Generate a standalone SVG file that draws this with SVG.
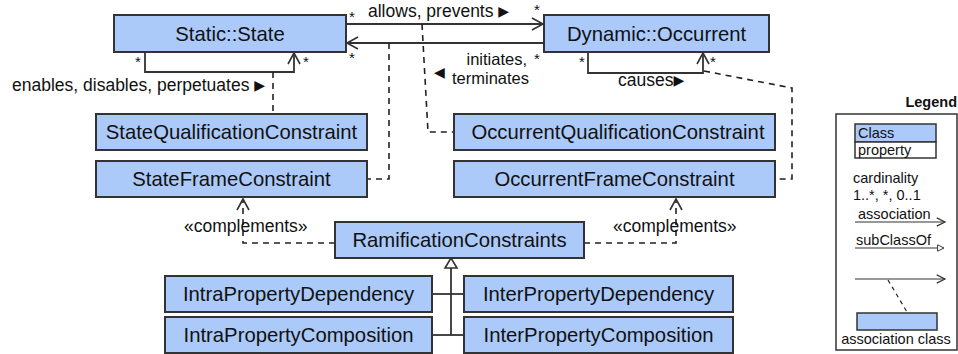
<svg xmlns="http://www.w3.org/2000/svg" width="958" height="354" viewBox="0 0 958 354">
<defs>
<style>
.box{fill:#abcaf9;stroke:#333;stroke-width:2}
.wbox{fill:#fff;stroke:#333;stroke-width:1.5}
.node{font-family:"Liberation Sans",Arial,sans-serif;font-size:20.3px;fill:#111;text-anchor:middle}
.lbl{font-family:"Liberation Sans",Arial,sans-serif;font-size:17.5px;fill:#111}
.star{font-family:"Liberation Sans",Arial,sans-serif;font-size:15px;fill:#111;text-anchor:middle}
.tri{font-family:"DejaVu Sans",sans-serif;font-size:14px;fill:#111}
.leg{font-family:"Liberation Sans",Arial,sans-serif;font-size:14.5px;fill:#111}
.line{fill:none;stroke:#333;stroke-width:1.8}
.dash{fill:none;stroke:#222;stroke-width:1.6;stroke-dasharray:6 5}
</style>
<marker id="open" viewBox="0 0 14 14" refX="12" refY="7" markerWidth="14" markerHeight="14" markerUnits="userSpaceOnUse" orient="auto">
<path d="M1,1 L12,7 L1,13" fill="none" stroke="#333" stroke-width="1.6"/>
</marker>
<marker id="openS" viewBox="0 0 12 12" refX="10" refY="6" markerWidth="11" markerHeight="11" markerUnits="userSpaceOnUse" orient="auto">
<path d="M1,1.5 L10,6 L1,10.5" fill="none" stroke="#333" stroke-width="1.3"/>
</marker>
<marker id="hollow" viewBox="0 0 10 10" refX="9" refY="5" markerWidth="8" markerHeight="8" markerUnits="userSpaceOnUse" orient="auto">
<path d="M1,1 L9,5 L1,9 Z" fill="#fff" stroke="#333" stroke-width="1.2"/>
</marker>
</defs>
<rect width="958" height="354" fill="#fff"/>

<g id="connectors">
<polyline class="line" points="145,52 145,72 294,72 294,53" marker-end="url(#open)"/>
<line class="dash" x1="273" y1="72" x2="273" y2="114"/>
<polyline class="line" points="588,52 588,73 703,73 703,53" marker-end="url(#open)"/>
<polyline class="dash" points="704,71 792,88 792,179 776,179"/>
<line class="line" x1="347" y1="24" x2="543" y2="24" marker-end="url(#open)"/>
<line class="line" x1="543" y1="43" x2="347" y2="43" marker-end="url(#open)"/>
<polyline class="dash" points="422,24 428,132 454,132"/>
<polyline class="dash" points="389,43 389,179 367,179"/>
<polyline class="dash" points="335,243 243,243 243,199" marker-end="url(#open)"/>
<polyline class="dash" points="584,243 676,243 676,199" marker-end="url(#open)"/>
<polygon points="451,258 445,268 457,268" fill="#fff" stroke="#333" stroke-width="1.6"/>
<line class="line" x1="451" y1="268" x2="451" y2="335"/>
<line class="line" x1="432" y1="294" x2="464" y2="294"/>
<line class="line" x1="432" y1="335" x2="464" y2="335"/>
</g>

<g id="labels">
<text class="star" x="138" y="67">*</text>
<text class="star" x="306" y="67">*</text>
<text class="star" x="582" y="67">*</text>
<text class="star" x="713" y="67">*</text>
<text class="star" x="352" y="22">*</text>
<text class="star" x="537" y="15">*</text>
<text class="star" x="352" y="63">*</text>
<text class="star" x="537" y="64">*</text>
<text class="lbl" x="12" y="91">enables, disables, perpetuates <tspan class="tri" dy="-1">▶</tspan></text>
<text class="lbl" x="368" y="17">allows, prevents <tspan class="tri" dy="-1">▶</tspan></text>
<text class="tri" x="434" y="77">◀</text>
<text class="lbl" x="527" y="65" text-anchor="end" style="font-size:16.5px">initiates,</text>
<text class="lbl" x="529" y="84" text-anchor="end" style="font-size:16.5px">terminates</text>
<text class="lbl" x="618" y="86">causes<tspan class="tri" dy="-1">▶</tspan></text>
<text class="lbl" x="184" y="232">«complements»</text>
<text class="lbl" x="613" y="232">«complements»</text>
</g>

<g id="static-state">
<rect class="box" x="114" y="15" width="232" height="37"/>
<text class="node" x="230" y="41">Static::State</text>
</g>
<g id="dynamic-occurrent">
<rect class="box" x="544" y="15" width="225" height="37"/>
<text class="node" x="656.5" y="41">Dynamic::Occurrent</text>
</g>
<g id="state-qualification-constraint">
<rect class="box" x="96" y="114" width="271" height="36"/>
<text class="node" x="231.5" y="139">StateQualificationConstraint</text>
</g>
<g id="state-frame-constraint">
<rect class="box" x="96" y="161" width="271" height="36"/>
<text class="node" x="231.5" y="186">StateFrameConstraint</text>
</g>
<g id="occurrent-qualification-constraint">
<rect class="box" x="454" y="114" width="321" height="36"/>
<text class="node" x="618" y="139">OccurrentQualificationConstraint</text>
</g>
<g id="occurrent-frame-constraint">
<rect class="box" x="454" y="161" width="321" height="36"/>
<text class="node" x="614.5" y="186">OccurrentFrameConstraint</text>
</g>
<g id="ramification-constraints">
<rect class="box" x="335" y="222" width="249" height="36"/>
<text class="node" x="459.5" y="247">RamificationConstraints</text>
</g>
<g id="intra-property-dependency">
<rect class="box" x="165" y="276" width="267" height="36"/>
<text class="node" x="298.5" y="301">IntraPropertyDependency</text>
</g>
<g id="intra-property-composition">
<rect class="box" x="165" y="317" width="267" height="36"/>
<text class="node" x="298.5" y="342">IntraPropertyComposition</text>
</g>
<g id="inter-property-dependency">
<rect class="box" x="464" y="276" width="269" height="36"/>
<text class="node" x="598.5" y="301">InterPropertyDependency</text>
</g>
<g id="inter-property-composition">
<rect class="box" x="464" y="317" width="269" height="36"/>
<text class="node" x="598.5" y="342">InterPropertyComposition</text>
</g>

<g id="legend">
<text x="957" y="107" text-anchor="end" style="font-family:'Liberation Sans',Arial,sans-serif;font-size:14.5px;font-weight:bold;fill:#111">Legend</text>
<rect x="836" y="114" width="121" height="236" fill="#fff" stroke="#333" stroke-width="1.5"/>
<rect class="box" x="855" y="124" width="81" height="18" style="stroke-width:1.5"/>
<rect class="wbox" x="855" y="142" width="81" height="16"/>
<text class="leg" x="858" y="138">Class</text>
<text class="leg" x="858" y="155">property</text>
<text class="leg" x="853" y="183">cardinality</text>
<text class="leg" x="853" y="200">1..*, *, 0..1</text>
<text class="leg" x="858" y="219">association</text>
<line x1="855" y1="222" x2="945" y2="222" stroke="#333" stroke-width="1.2" marker-end="url(#openS)"/>
<text class="leg" x="856" y="245">subClassOf</text>
<line x1="855" y1="248" x2="944" y2="248" stroke="#333" stroke-width="1.2" marker-end="url(#hollow)"/>
<line x1="855" y1="279" x2="945" y2="279" stroke="#333" stroke-width="1.2" marker-end="url(#openS)"/>
<line x1="888" y1="280" x2="907" y2="312" stroke="#222" stroke-width="1.2" stroke-dasharray="4 4"/>
<rect class="box" x="857" y="313" width="80" height="17" style="stroke-width:1.5"/>
<text class="leg" x="896" y="344" text-anchor="middle">association class</text>
</g>
</svg>
